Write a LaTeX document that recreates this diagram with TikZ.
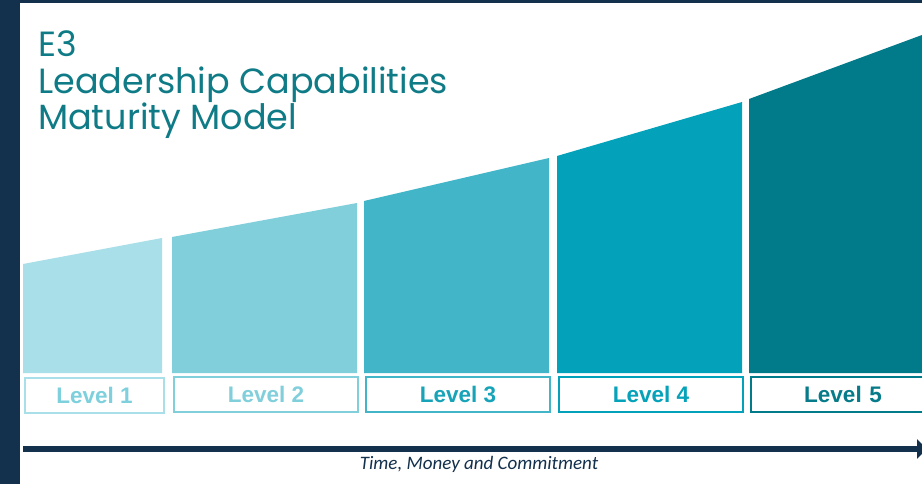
\documentclass[tikz,border=0pt]{standalone}
\usepackage{fontspec}
\setmainfont{Liberation Sans}
\newfontfamily\titlefont{Poppins}
\newfontfamily\capfont{Carlito}
\usetikzlibrary{arrows.meta}
\definecolor{navy}{HTML}{13304D}
\definecolor{ttl}{HTML}{0F7B86}
\definecolor{cA}{HTML}{A8DFE8}
\definecolor{cB}{HTML}{82CFDC}
\definecolor{cC}{HTML}{42B6C8}
\definecolor{cD}{HTML}{03A2BA}
\definecolor{cE}{HTML}{017A89}
\definecolor{tA}{HTML}{7ED0DD}
\definecolor{tB}{HTML}{82CFDC}
\definecolor{tC}{HTML}{17A3B8}
\definecolor{tD}{HTML}{05A2B9}
\definecolor{tE}{HTML}{077B89}
\tikzset{
  lvlbox/.style={draw=#1, line width=2pt, fill=white, anchor=north west,
    inner sep=0pt, font=\fontsize{22.5}{24}\selectfont\bfseries},
  ttltext/.style={anchor=base west, text=ttl, inner sep=0pt,
    font=\titlefont\fontsize{35}{38}\selectfont},
}
\begin{document}
\begin{tikzpicture}[x=1pt,y=-1pt]
\useasboundingbox (0,0) rectangle (922,484);
\fill[white] (0,0) rectangle (922,484);
% frame
\fill[navy] (0,0) rectangle (20,484);
\fill[navy] (0,0) rectangle (922,3);
% title
\node[ttltext] (t1) at (38,57) {E3};
\node[ttltext] (t2) at (38,93.5) {Leadership Capabilities};
\node[ttltext] (t3) at (38,130) {Maturity Model};
% bars
\fill[cA] (23,373) -- (23,264) -- (162,238) -- (162,373) -- cycle;
\fill[cB] (172,373) -- (172,237) -- (357,203) -- (357,373) -- cycle;
\fill[cC] (364,373) -- (364,201) -- (549,158) -- (549,373) -- cycle;
\fill[cD] (557,373) -- (557,156) -- (742,102) -- (742,373) -- cycle;
\fill[cE] (749,373) -- (749,99) -- (922,35) -- (930,32) -- (930,373) -- cycle;
% labels
\node[lvlbox=cA, text=tA, minimum width=139pt, minimum height=35pt] (l1) at (24,377) {Level 1};
\node[lvlbox=cB, text=tB, minimum width=184pt, minimum height=35pt] (l2) at (173,376) {Level 2};
\node[lvlbox=cC, text=tC, minimum width=184pt, minimum height=35pt] (l3) at (365,376) {Level 3};
\node[lvlbox=cD, text=tD, minimum width=184pt, minimum height=35pt] (l4) at (558,376) {Level 4};
\node[lvlbox=cE, text=tE, minimum width=184pt, minimum height=35pt, text width=173pt, align=center] (l5) at (750,376) {Level 5};
% arrow
\coordinate (as) at (23,449);
\coordinate (ae) at (927,449);
\draw[navy, line width=5.5pt, -{Triangle[length=10pt,width=19pt]}] (as) -- (ae);
\node[text=navy, font=\capfont\itshape\fontsize{19}{21}\selectfont, inner sep=0pt] (cap) at (479,464) {Time, Money and Commitment};
\end{tikzpicture}
\end{document}
